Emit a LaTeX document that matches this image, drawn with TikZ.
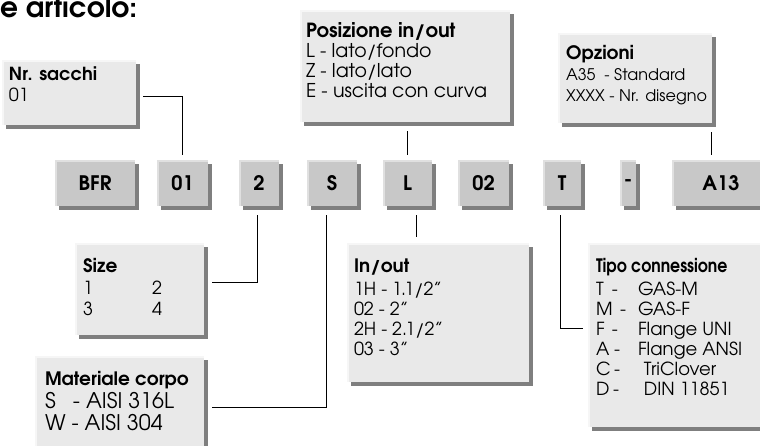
\documentclass[tikz,border=0pt]{standalone}
\usepackage{fontspec}
\setmainfont{TeX Gyre Adventor}
\usetikzlibrary{shadows,calc}
\definecolor{codefill}{HTML}{C8C8C8}
\definecolor{infofill}{HTML}{E9E9E9}
\definecolor{shadowc}{HTML}{7F7F7F}
\definecolor{hlcode}{HTML}{E0E0E0}
\definecolor{hlinfo}{HTML}{F6F6F6}
\newcommand{\codeline}[4]{\makebox[#1][l]{#2}\makebox[#3][l]{-}#4}
\tikzset{
  boxbase/.style={anchor=north west, inner sep=0pt, outer sep=0pt,
    general shadow={fill=shadowc, shadow xshift=4pt, shadow yshift=-4pt}},
  codebox/.style={boxbase, fill=codefill, minimum height=46pt,
    font=\fontsize{20}{22}\selectfont\bfseries},
  infobox/.style={boxbase, fill=infofill},
  txt/.style={anchor=base west, inner sep=0pt, outer sep=0pt, font=\fontsize{#1}{#1}\selectfont},
  ttl/.style={anchor=base west, inner sep=0pt, outer sep=0pt, font=\fontsize{#1}{#1}\selectfont\bfseries},
  conn/.style={draw=black, line width=0.8pt},
  hlc/.style={draw=hlcode, line width=1.5pt},
  hli/.style={draw=hlinfo, line width=1.5pt},
}
\begin{document}
\begin{tikzpicture}[x=1pt,y=-1pt]
\useasboundingbox (0,0) rectangle (760,445);
\clip (0,0) rectangle (760,445);
\node[anchor=base west, inner sep=0pt, font=\fontsize{28}{30}\selectfont\bfseries] (title) at (0,17) {e articolo:};

% info boxes
\node[infobox, minimum width=134pt, minimum height=65pt] (nsac) at (2,60) {};
\node[infobox, minimum width=210pt, minimum height=112pt] (pos) at (300,10) {};
\node[infobox, minimum width=154pt, minimum height=90pt] (opz) at (558,33) {};
\node[infobox, minimum width=129pt, minimum height=92pt] (size) at (75,243) {};
\node[infobox, minimum width=169pt, minimum height=110pt] (mat) at (35,356) {};
\node[infobox, minimum width=182pt, minimum height=139pt] (inout) at (347,243) {};
\node[infobox, minimum width=190pt, minimum height=184pt] (tipo) at (588,243) {};
\foreach \n in {nsac,pos,opz,size,mat,inout,tipo}
  \draw[hli] ($(\n.south west)+(0.75,0)$) |- ($(\n.north east)+(0,0.75)$);

% code boxes
\node[codebox, minimum width=80pt] (bfr) at (55,160) {BFR};
\node[codebox, minimum width=51pt] (c01) at (157,160) {01};
\node[codebox, minimum width=40pt] (c2) at (239,160) {2};
\node[codebox, minimum width=50pt] (cS) at (307,160) {S};
\node[codebox, minimum width=49pt] (cL) at (383,160) {L};
\node[codebox, minimum width=51pt] (c02) at (458,160) {02};
\node[codebox, minimum width=38pt] (cT) at (543,160) {T};
\node[codebox, minimum width=16pt] (cdash) at (620,160) {-};
\node[codebox, minimum width=98pt] (a13) at (672,160) {A13};
\foreach \n in {bfr,c01,c2,cS,cL,c02,cT,cdash,a13}
  \draw[hlc] ($(\n.south west)+(0.75,0)$) |- ($(\n.north east)+(0,0.75)$);

% texts
\node[ttl=18] (ns1) at (9,80) {Nr. sacchi};
\node[txt=18] (ns2) at (9,101) {01};

\node[ttl=19.5] (po1) at (306,37) {Posizione in/out};
\node[txt=19] (po2) at (306,57) {L - lato/fondo};
\node[txt=19] (po3) at (306,77) {Z - lato/lato};
\node[txt=19] (po4) at (306,97) {E - uscita con curva};

\node[ttl=18.5] (op1) at (566,59) {Opzioni};
\node[txt=16] (op2) at (566,80) {A35~~- Standard};
\node[txt=16] (op3) at (566,101) {XXXX - Nr. disegno};

\node[ttl=18.5] (si1) at (83,272) {Size};
\node[txt=18] (si2) at (83,294) {1};
\node[txt=18] (si3) at (152,294) {2};
\node[txt=18] (si4) at (83,315) {3};
\node[txt=18] (si5) at (152,315) {4};

\node[ttl=18.5] (ma1) at (45,385) {Materiale corpo};
\node[txt=21.5] (ma2) at (45,408) {\makebox[28pt][l]{S}- AISI 316L};
\node[txt=21.5] (ma3) at (45,430) {W - AISI 304};

\node[ttl=18.5] (io1) at (354,272) {In/out};
\node[txt=18] (io2) at (354,295) {1H - 1.1/2"};
\node[txt=18] (io3) at (354,315) {02 - 2"};
\node[txt=18] (io4) at (354,335) {2H - 2.1/2"};
\node[txt=18] (io5) at (354,355) {03 - 3"};

\node[ttl=18.5] (tc1) at (596,272) {\scalebox{0.85}[1]{Tipo connessione}};
\node[txt=18] (tc2) at (596,295) {\codeline{16pt}{T}{26pt}{GAS-M}};
\node[txt=18] (tc3) at (596,315) {\codeline{24pt}{M}{18pt}{GAS-F}};
\node[txt=18] (tc4) at (596,335) {\codeline{16pt}{F}{26pt}{Flange UNI}};
\node[txt=18] (tc5) at (596,355) {\codeline{18pt}{A}{24pt}{Flange ANSI}};
\node[txt=18] (tc6) at (596,375) {\codeline{18pt}{C}{30pt}{TriClover}};
\node[txt=18] (tc7) at (596,395) {\codeline{17pt}{D}{31pt}{DIN 11851}};

% connectors
\draw[conn] ($(nsac.east)+(7,3.5)$) -| ($(c01.north)+(0,-5)$);
\draw[conn] ($(pos.south -| cL.north)+(0,9)$) -- ($(cL.north)+(0,-5)$);
\draw[conn] ($(opz.south -| a13.north west)+(39,9)$) -- ($(a13.north west)+(39,-5)$);
\draw[conn] ($(c2.south)+(-2,9)$) |- ($(size.east)+(8,-7)$);
\draw[conn] ($(cS.south)+(-6,9)$) |- ($(mat.east)+(8,-4)$);
\draw[conn] ($(cL.south)+(9,9)$) -- ($(inout.north -| cL.south)+(9,-6)$);
\draw[conn] ($(cT.south)+(-2,9)$) |- ($(tipo.west)+(-5,-7)$);
\end{tikzpicture}
\end{document}
